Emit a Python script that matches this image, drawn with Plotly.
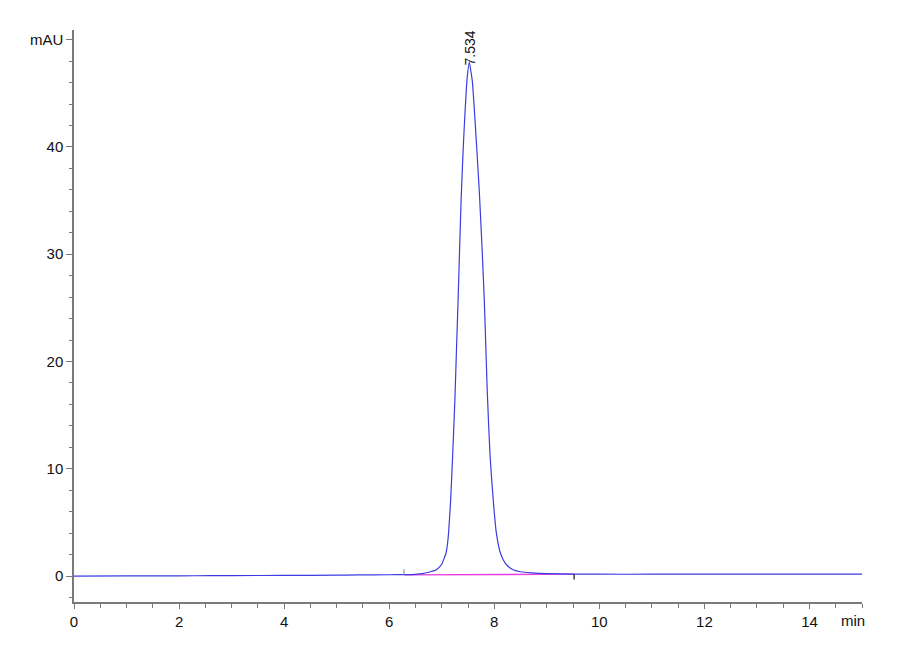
import plotly.graph_objects as go

# chromatogram signal (min, mAU)
time_min = [0.0, 1.0, 2.0, 2.6, 3.0, 4.0, 5.0, 5.4, 6.0, 6.3, 6.5, 6.63, 6.75, 6.89, 6.96, 7.01,
            7.05, 7.08, 7.11, 7.13, 7.17, 7.21, 7.25, 7.28, 7.31, 7.34, 7.37, 7.41, 7.443, 7.48,
            7.525, 7.56, 7.585, 7.627, 7.67, 7.72, 7.77, 7.81, 7.84, 7.866, 7.92, 7.98, 8.04,
            8.12, 8.21, 8.29, 8.37, 8.5, 8.71, 9.0, 9.5, 10.0, 11.0, 12.0, 13.0, 14.0, 15.0]
signal_mau = [0.0, 0.01, 0.02, 0.03, 0.04, 0.06, 0.08, 0.1, 0.12, 0.13, 0.16, 0.22, 0.35, 0.56, 0.85, 1.2,
              1.7, 2.1, 3.0, 4.0, 7.1, 11.5, 16.4, 21.0, 25.5, 30.4, 35.2, 40.0, 43.2, 46.2,
              47.9, 46.9, 46.0, 43.0, 39.6, 35.4, 30.3, 25.7, 21.3, 17.3, 11.2, 7.1, 4.0,
              2.1, 1.18, 0.8, 0.56, 0.4, 0.3, 0.22, 0.18, 0.17, 0.17, 0.17, 0.17, 0.18, 0.18]

# integration baseline
baseline_t = [6.28, 9.52]
baseline_y = [0.1, 0.17]

peak_rt = 7.534
peak_label = "7.534"
peak_height = 47.9

x_ticks = [0, 2, 4, 6, 8, 10, 12, 14]
y_ticks = [0, 10, 20, 30, 40, 50]
y_ticktext = ["0", "10", "20", "30", "40", "mAU"]

fig = go.Figure()
fig.add_trace(go.Scatter(x=baseline_t, y=baseline_y, mode="lines",
                         line=dict(color="#e83ee0", width=1.3), hoverinfo="skip"))
fig.add_trace(go.Scatter(x=time_min, y=signal_mau, mode="lines",
                         line=dict(color="#3c3ce0", width=1.2, shape="spline", smoothing=0.5)))
# integration start / end event markers
fig.add_trace(go.Scatter(x=[baseline_t[0], baseline_t[0]], y=[baseline_y[0], baseline_y[0] + 0.55],
                         mode="lines", line=dict(color="#888888", width=1)))
fig.add_trace(go.Scatter(x=[baseline_t[1], baseline_t[1]], y=[baseline_y[1], baseline_y[1] - 0.5],
                         mode="lines", line=dict(color="#222222", width=1.3)))

label_font = dict(family="Liberation Sans, Arial", size=14, color="#111111")
fig.add_annotation(x=peak_rt, y=peak_height, text=peak_label, textangle=-90, showarrow=False,
                   xanchor="center", yanchor="bottom", yshift=-5, font=label_font)
axis_font = dict(family="Liberation Sans, Arial", size=15, color="#111111")
fig.add_annotation(x=14.82, y=0, xref="x", yref="paper", text="min", showarrow=False,
                   yshift=-18, xanchor="center", yanchor="middle", font=axis_font)

fig.update_layout(
    width=900, height=660,
    margin=dict(l=66, r=46, t=22, b=66),
    paper_bgcolor="white", plot_bgcolor="white",
    showlegend=False,
    xaxis=dict(range=[0, 15], tickvals=x_ticks, showgrid=False, zeroline=False,
               showline=True, linecolor="#7a7a7a", linewidth=1.5,
               ticks="outside", ticklen=5, tickcolor="#7a7a7a", tickwidth=1.2,
               minor=dict(dtick=0.5, ticks="outside", ticklen=4, tickcolor="#7a7a7a", tickwidth=1.2),
               tickfont=axis_font),
    yaxis=dict(range=[-2.42, 50.9], tickvals=y_ticks, ticktext=y_ticktext, showgrid=False, zeroline=False,
               showline=True, linecolor="#7a7a7a", linewidth=1.5,
               ticks="outside", ticklen=6, tickcolor="#7a7a7a", tickwidth=1.2,
               minor=dict(dtick=2, ticks="outside", ticklen=3, tickcolor="#7a7a7a", tickwidth=1.2),
               tickfont=axis_font),
)

fig.write_html("out.html")
